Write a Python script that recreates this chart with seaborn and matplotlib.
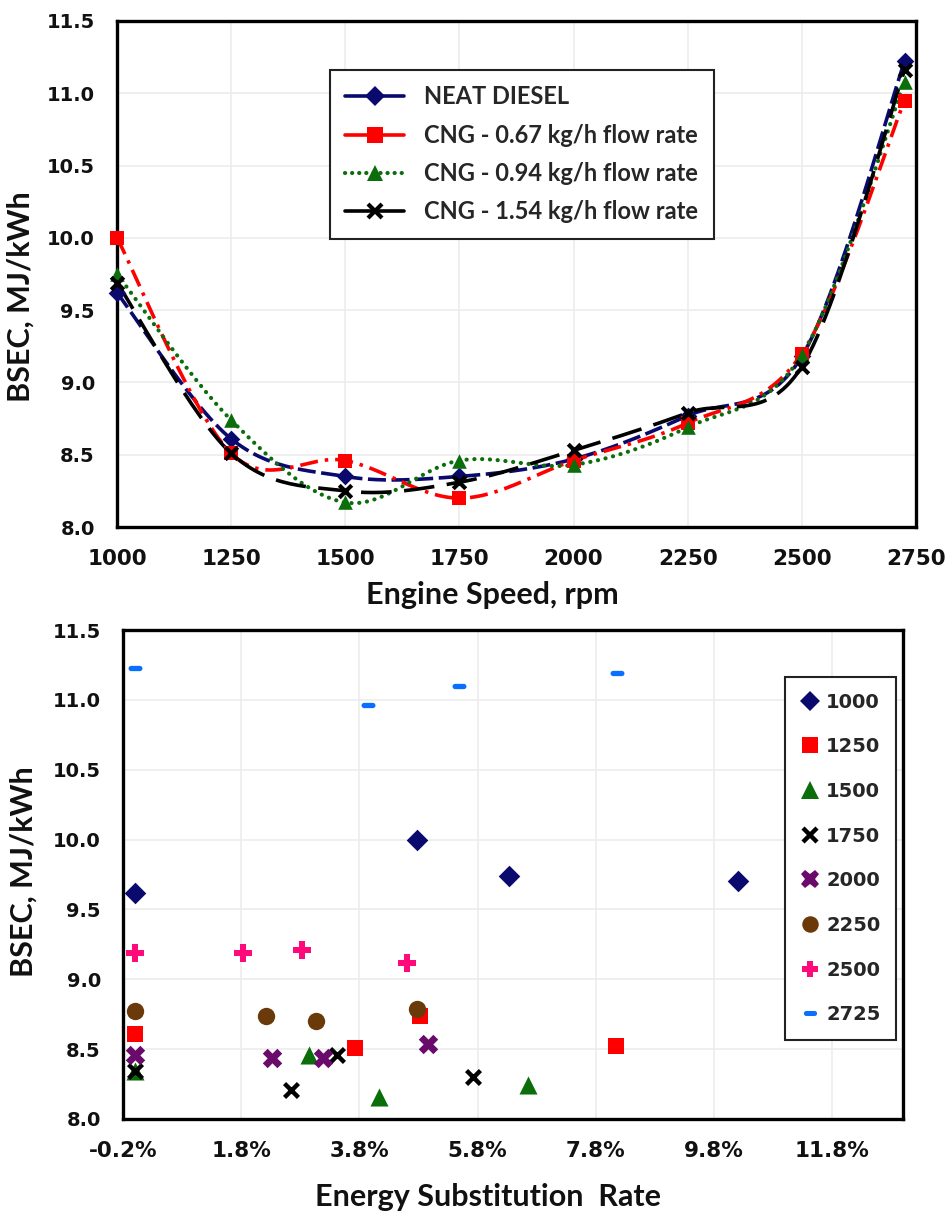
import numpy as np
import pandas as pd
import matplotlib
matplotlib.use("Agg")
import matplotlib.pyplot as plt
from matplotlib.lines import Line2D
from matplotlib.ticker import FuncFormatter, MultipleLocator, FixedLocator
import seaborn as sns

# ---------------- data ----------------
speeds = [1000, 1250, 1500, 1750, 2000, 2250, 2500, 2725]
neat_diesel = [9.62, 8.61, 8.35, 8.35, 8.47, 8.77, 9.18, 11.22]
cng_067 = [10.00, 8.51, 8.46, 8.20, 8.46, 8.72, 9.20, 10.95]
cng_094 = [9.75, 8.74, 8.17, 8.46, 8.43, 8.69, 9.19, 11.08]
cng_154 = [9.69, 8.51, 8.25, 8.31, 8.53, 8.79, 9.11, 11.16]
series_labels = ["NEAT DIESEL", "CNG - 0.67 kg/h flow rate",
                 "CNG - 0.94 kg/h flow rate", "CNG - 1.54 kg/h flow rate"]

speed_groups = ["1000", "1250", "1500", "1750", "2000", "2250", "2500", "2725"]
esr_1000 = [0.0, 0.0477, 0.0634, 0.1021]
bsec_1000 = [9.62, 10.00, 9.74, 9.70]
esr_1250 = [0.0, 0.0373, 0.0482, 0.0814]
bsec_1250 = [8.61, 8.51, 8.74, 8.52]
esr_1500 = [0.0, 0.0295, 0.0414, 0.0666]
bsec_1500 = [8.34, 8.46, 8.16, 8.24]
esr_1750 = [0.0, 0.0265, 0.0343, 0.0573]
bsec_1750 = [8.34, 8.21, 8.46, 8.30]
esr_2000 = [0.0, 0.0233, 0.0319, 0.0497]
bsec_2000 = [8.46, 8.44, 8.44, 8.54]
esr_2250 = [0.0, 0.0222, 0.0307, 0.0478]
bsec_2250 = [8.77, 8.74, 8.70, 8.79]
esr_2500 = [0.0, 0.0183, 0.0283, 0.0460]
bsec_2500 = [9.19, 9.19, 9.21, 9.12]
esr_2725 = [0.0, 0.0394, 0.0548, 0.0816]
bsec_2725 = [11.23, 10.96, 11.10, 11.19]

# ---------------- style ----------------
sns.set_theme(style="white")
plt.rcParams["font.family"] = ["DejaVu Sans"]
plt.rcParams["lines.scale_dashes"] = False

LABEL_FONT = dict(family="Lato", weight="bold", size=22)


def smooth(xs, ys, n=30):
    """Excel-like smoothed line (Bezier through the data points)."""
    xs = np.asarray(xs, float)
    ys = np.asarray(ys, float)
    P = np.column_stack([xs, ys])
    Pe = np.vstack([P[0], P, P[-1]])
    out = []
    t = np.linspace(0, 1, n)[:, None]
    for i in range(len(P) - 1):
        p0, p1 = Pe[i + 1], Pe[i + 2]
        c1 = p0 + (Pe[i + 2] - Pe[i]) / 6.0
        c2 = p1 - (Pe[i + 3] - Pe[i + 1]) / 6.0
        seg = ((1 - t) ** 3) * p0 + 3 * ((1 - t) ** 2) * t * c1 + 3 * (1 - t) * t ** 2 * c2 + t ** 3 * p1
        out.append(seg if i == 0 else seg[1:])
    out = np.vstack(out)
    return out[:, 0], out[:, 1]


def stadium_marker(aspect=0.38, n=12):
    """Rounded horizontal dash marker shape."""
    r = aspect
    half = 1.0 - r
    a1 = np.linspace(-np.pi / 2, np.pi / 2, n)
    a2 = np.linspace(np.pi / 2, 3 * np.pi / 2, n)
    right = np.column_stack([half + r * np.cos(a1), r * np.sin(a1)])
    left = np.column_stack([-half + r * np.cos(a2), r * np.sin(a2)])
    return np.vstack([right, left, right[:1]])


fig = plt.figure(figsize=(9.49, 12.13), dpi=100)
ax1 = fig.add_axes([0.1233, 0.5655, 0.8419, 0.4172])
ax2 = fig.add_axes([0.1296, 0.0775, 0.8219, 0.4031])

grid_color = "#ececec"

# ---------------- top chart ----------------
top_df = pd.DataFrame({
    "speed": speeds * 4,
    "bsec": neat_diesel + cng_067 + cng_094 + cng_154,
    "series": sum([[s] * len(speeds) for s in series_labels], []),
})

styles = {
    series_labels[0]: dict(color="#0a0a6e", marker="D", ms=9, dashes=(13, 4), mew=0),
    series_labels[1]: dict(color="#ff0000", marker="s", ms=9.5, dashes=(13, 5, 2.5, 5), mew=0),
    series_labels[2]: dict(color="#0b6e0b", marker="^", ms=10.5, dashes=(0.1, 5.5), mew=0),
    series_labels[3]: dict(color="#000000", marker="x", ms=9, dashes=(22, 9), mew=3),
}

for name in series_labels:
    st = styles[name]
    sub = top_df[top_df["series"] == name]
    sx, sy = smooth(sub["speed"], sub["bsec"])
    ln, = ax1.plot(sx, sy, color=st["color"], lw=2.6, zorder=3)
    ln.set_dashes(st["dashes"])
    if name == series_labels[2]:
        ln.set_dash_capstyle("round")
        ln.set_linewidth(3.0)

for name in series_labels:
    st = styles[name]
    sub = top_df[top_df["series"] == name]
    kw = dict(data=sub, x="speed", y="bsec", ax=ax1, color=st["color"],
              marker=st["marker"], s=st["ms"] ** 2, legend=False, zorder=4, clip_on=False)
    kw["linewidth"] = st["mew"] if st["marker"] == "x" else 0
    sns.scatterplot(**kw)

ax1.set_xlim(1000, 2750)
ax1.set_ylim(8.0, 11.5)
ax1.xaxis.set_major_locator(MultipleLocator(250))
ax1.yaxis.set_major_locator(MultipleLocator(0.5))
ax1.yaxis.set_major_formatter(FuncFormatter(lambda v, p: f"{v:.1f}"))
ax1.grid(True, color=grid_color, lw=1.2, zorder=0)
ax1.set_axisbelow(True)

handles = []
for name in series_labels:
    st = styles[name]
    h = Line2D([0], [0], color=st["color"], lw=2.6, marker=st["marker"],
               markersize=st["ms"] * (1.15 if st["marker"] != "x" else 1.05),
               markeredgewidth=st["mew"] if st["marker"] == "x" else 0,
               markerfacecolor=st["color"], markeredgecolor=st["color"])
    if name == series_labels[2]:
        h.set_dashes((0.1, 5.0))
        h.set_dash_capstyle("round")
        h.set_linewidth(3.0)
    handles.append(h)
leg1 = ax1.legend(handles, series_labels, loc="upper left", bbox_to_anchor=(0.2666, 0.903),
                  frameon=True, fancybox=False, edgecolor="#222222", framealpha=1,
                  prop=dict(family="Lato", weight="bold", size=17),
                  handlelength=2.5, handletextpad=0.85, labelspacing=0.65,
                  borderpad=0.65, borderaxespad=0, numpoints=1)
leg1.get_frame().set_linewidth(1.5)

ax1.set_xlabel("Engine Speed, rpm", fontdict=LABEL_FONT)
ax1.set_ylabel("BSEC, MJ/kWh", fontdict=LABEL_FONT)
ax1.xaxis.set_label_coords(0.47, -0.106)
ax1.yaxis.set_label_coords(-0.103, 0.455)

# ---------------- bottom chart ----------------
esr_all = [esr_1000, esr_1250, esr_1500, esr_1750, esr_2000, esr_2250, esr_2500, esr_2725]
bsec_all = [bsec_1000, bsec_1250, bsec_1500, bsec_1750, bsec_2000, bsec_2250, bsec_2500, bsec_2725]
bot_df = pd.DataFrame({
    "esr": sum(esr_all, []),
    "bsec": sum(bsec_all, []),
    "speed": sum([[g] * len(e) for g, e in zip(speed_groups, esr_all)], []),
})

dash_marker = stadium_marker()
bot_styles = {
    "1000": dict(color="#0a0a6e", marker="D", size=11, lw=0),
    "1250": dict(color="#ff0000", marker="s", size=12, lw=0),
    "1500": dict(color="#0b6e0b", marker="^", size=13, lw=0),
    "1750": dict(color="#000000", marker="x", size=10, lw=3.2),
    "2000": dict(color="#6a0a6a", marker="X", size=14, lw=0),
    "2250": dict(color="#6b3a0a", marker="o", size=12.5, lw=0),
    "2500": dict(color="#ff0a7a", marker="P", size=12.5, lw=0),
    "2725": dict(color="#0a6eff", marker=dash_marker, size=10, lw=0),
}

for g in speed_groups:
    st = bot_styles[g]
    sub = bot_df[bot_df["speed"] == g]
    kw = dict(data=sub, x="esr", y="bsec", ax=ax2, color=st["color"],
              marker=st["marker"], s=st["size"] ** 2, legend=False, zorder=4, clip_on=False)
    if st["lw"] > 0:
        kw["linewidth"] = st["lw"]
        kw["edgecolor"] = st["color"]
    else:
        kw["linewidth"] = 0
    sns.scatterplot(**kw)

ax2.set_xlim(-0.002, 0.130)
ax2.set_ylim(8.0, 11.5)
ax2.xaxis.set_major_locator(FixedLocator([-0.002 + 0.02 * i for i in range(7)]))
ax2.xaxis.set_major_formatter(FuncFormatter(lambda v, p: f"{v * 100:.1f}%"))
ax2.yaxis.set_major_locator(MultipleLocator(0.5))
ax2.yaxis.set_major_formatter(FuncFormatter(lambda v, p: f"{v:.1f}"))
ax2.grid(True, color=grid_color, lw=1.2, zorder=0)
ax2.set_axisbelow(True)

bh = []
for g in speed_groups:
    st = bot_styles[g]
    bh.append(Line2D([0], [0], ls="none", marker=st["marker"], color=st["color"],
                     markersize=st["size"] * 0.95,
                     markeredgewidth=st["lw"],
                     markerfacecolor=st["color"], markeredgecolor=st["color"]))
leg2 = ax2.legend(bh, speed_groups, loc="upper left", bbox_to_anchor=(0.849, 0.904),
                  frameon=True, fancybox=False, edgecolor="#222222", framealpha=1,
                  prop=dict(family="DejaVu Sans", weight="bold", size=14),
                  handlelength=1.0, handletextpad=0.3, labelspacing=1.32,
                  borderpad=0.8, borderaxespad=0, numpoints=1)
leg2.get_frame().set_linewidth(1.5)

ax2.set_xlabel("Energy Substitution  Rate", fontdict=LABEL_FONT)
ax2.set_ylabel("BSEC, MJ/kWh", fontdict=LABEL_FONT)
ax2.xaxis.set_label_coords(0.468, -0.131)
ax2.yaxis.set_label_coords(-0.110, 0.505)

for ax in (ax1, ax2):
    for sp in ax.spines.values():
        sp.set_visible(True)
        sp.set_color("black")
        sp.set_linewidth(2.4)
    ax.tick_params(axis="both", length=0, pad=16)
    for lab in ax.get_xticklabels():
        lab.set_fontfamily("DejaVu Sans")
        lab.set_fontweight("bold")
        lab.set_fontsize(15.5)
        lab.set_color("#111111")
    for lab in ax.get_yticklabels():
        lab.set_fontfamily("DejaVu Sans")
        lab.set_fontweight("bold")
        lab.set_fontsize(14)
        lab.set_color("#111111")
    ax.xaxis.label.set_color("#111111")
    ax.yaxis.label.set_color("#111111")

fig.savefig("out.png", dpi=100, facecolor="white")
